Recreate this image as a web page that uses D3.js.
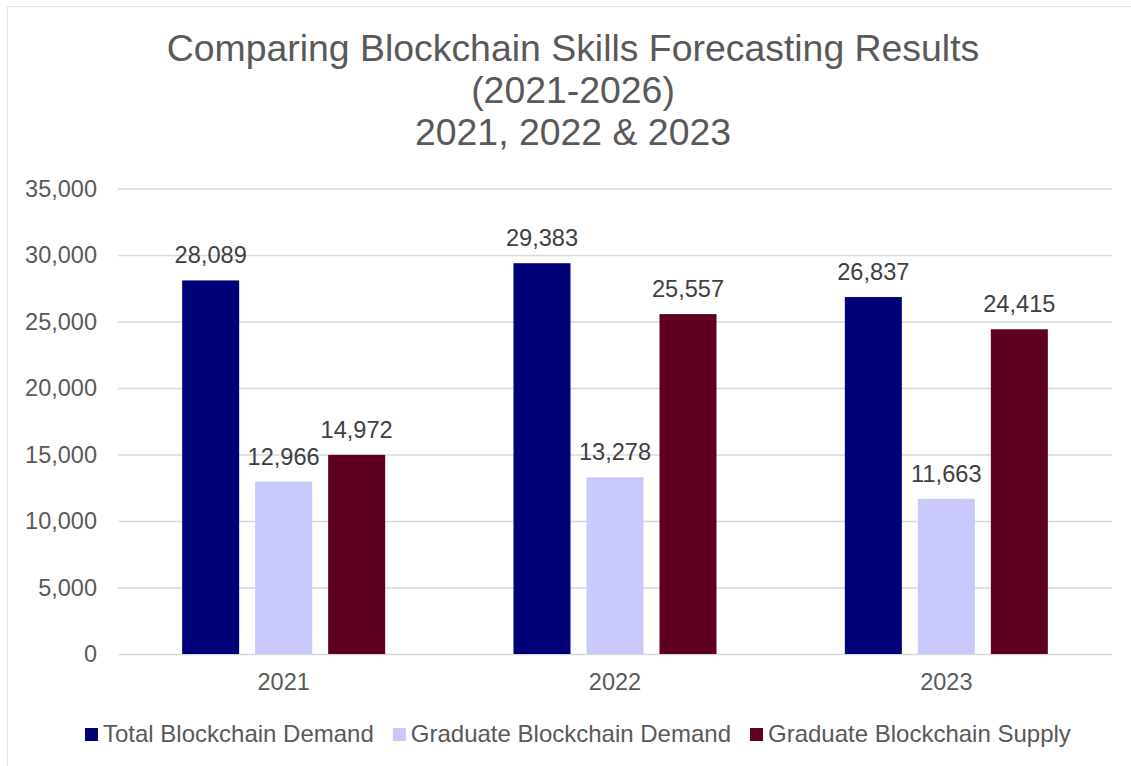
<!DOCTYPE html>
<html>
<head>
<meta charset="utf-8">
<script src="https://cdn.jsdelivr.net/npm/d3@7"></script>
<style>
  html, body { margin: 0; padding: 0; background: #ffffff; }
  svg { display: block; }
  text { font-family: "Liberation Sans", Arial, sans-serif; fill: #595959; }
</style>
</head>
<body>
<svg id="chart" width="1131" height="766"></svg>
<script>
// Chart data
const years = ["2021", "2022", "2023"];
const seriesNames = ["Total Blockchain Demand", "Graduate Blockchain Demand", "Graduate Blockchain Supply"];
const totalDemand = [28089, 29383, 26837];
const graduateDemand = [12966, 13278, 11663];
const graduateSupply = [14972, 25557, 24415];
const yTicks = [0, 5000, 10000, 15000, 20000, 25000, 30000, 35000];
const titleLines = ["Comparing Blockchain Skills Forecasting Results", "(2021-2026)", "2021, 2022 & 2023"];

const seriesValues = [totalDemand, graduateDemand, graduateSupply];
const colors = ["#000078", "#c8c8fa", "#600020"];

const svg = d3.select("#chart");
const W = 1131, H = 766;

// Chart frame (only left and top edges fall inside the canvas)
svg.append("rect")
  .attr("x", 7.5).attr("y", 6.5)
  .attr("width", W + 10).attr("height", H + 10)
  .attr("fill", "#ffffff")
  .attr("stroke", "#e6e6e6").attr("stroke-width", 1);

const plot = { left: 118, right: 1112, top: 188.5, bottom: 654 };

const y = d3.scaleLinear().domain([0, 35000]).range([plot.bottom, plot.top]);
const x = d3.scaleBand().domain(years).range([plot.left, plot.right])
  .paddingInner(0.3873).paddingOuter(0.19365);
const xs = d3.scaleBand().domain(seriesNames).range([0, x.bandwidth()])
  .paddingInner(16 / 73).paddingOuter(0);

// Title
const title = svg.append("text")
  .attr("text-anchor", "middle")
  .style("font-size", "37.4px");
titleLines.forEach((t, i) => {
  title.append("tspan").attr("x", 573).attr("y", 61 + i * 42).text(t);
});

// Gridlines and y-axis labels
const yAxis = d3.axisLeft(y).tickValues(yTicks)
  .tickSize(-(plot.right - plot.left))
  .tickPadding(21)
  .tickFormat(d3.format(","));
const gy = svg.append("g")
  .attr("transform", `translate(${plot.left},0)`)
  .call(yAxis);
gy.select(".domain").remove();
gy.selectAll(".tick line").attr("stroke", "#d9d9d9").attr("stroke-width", 1.5);
gy.selectAll(".tick text")
  .style("font-size", "23.5px")
  .attr("fill", "#595959")
  .attr("font-family", null);

// Category axis
const xAxis = d3.axisBottom(x).tickSize(0).tickPadding(19);
const gx = svg.append("g")
  .attr("transform", `translate(0,${plot.bottom})`)
  .call(xAxis);
gx.select(".domain").remove();
gx.selectAll(".tick text")
  .style("font-size", "23.5px")
  .attr("fill", "#595959")
  .attr("font-family", null);

// Bars and value labels
const groups = svg.append("g").selectAll("g")
  .data(years)
  .join("g")
  .attr("transform", d => `translate(${x(d)},0)`);

groups.each(function (year, yi) {
  const g = d3.select(this);
  const rows = seriesNames.map((s, si) => ({ s, si, v: seriesValues[si][yi] }));
  g.selectAll("rect")
    .data(rows)
    .join("rect")
    .attr("x", d => xs(d.s))
    .attr("y", d => y(d.v))
    .attr("width", xs.bandwidth())
    .attr("height", d => y(0) - y(d.v))
    .attr("fill", d => colors[d.si]);
  g.selectAll("text")
    .data(rows)
    .join("text")
    .attr("x", d => xs(d.s) + xs.bandwidth() / 2)
    .attr("y", d => y(d.v) - 17)
    .attr("text-anchor", "middle")
    .style("font-size", "23.6px")
    .style("fill", "#404040")
    .text(d => d3.format(",")(d.v));
});

// Legend
const legend = svg.append("g").attr("transform", "translate(85,742)");
let lx = 0;
seriesNames.forEach((s, i) => {
  legend.append("rect")
    .attr("x", lx).attr("y", -14)
    .attr("width", 13).attr("height", 13)
    .attr("fill", colors[i]);
  const t = legend.append("text")
    .attr("x", lx + 18).attr("y", 0)
    .style("font-size", "24px")
    .text(s);
  lx += 18 + t.node().getComputedTextLength() + 19;
});
</script>
</body>
</html>
